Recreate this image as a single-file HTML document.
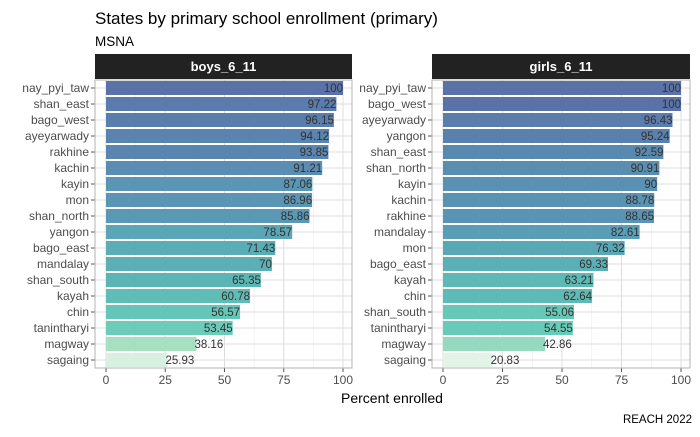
<!DOCTYPE html>
<html><head><meta charset="utf-8"><style>
body{margin:0;background:#fff;font-family:"Liberation Sans",sans-serif;}
svg text{font-family:"Liberation Sans",sans-serif;}
</style></head><body>
<svg id="c" width="700" height="432" xmlns="http://www.w3.org/2000/svg">
<text x="95" y="24" font-size="17" fill="#000">States by primary school enrollment (primary)</text>
<text x="95" y="46" font-size="13.5" fill="#000">MSNA</text>
<text x="392" y="403" font-size="14" text-anchor="middle" fill="#000">Percent enrolled</text>
<text x="692" y="423" font-size="11.5" text-anchor="end" fill="#000">REACH 2022</text>
</svg>
<script>
const boysStates=["nay_pyi_taw","shan_east","bago_west","ayeyarwady","rakhine","kachin","kayin","mon","shan_north","yangon","bago_east","mandalay","shan_south","kayah","chin","tanintharyi","magway","sagaing"];
const boysValues=[100,97.22,96.15,94.12,93.85,91.21,87.06,86.96,85.86,78.57,71.43,70,65.35,60.78,56.57,53.45,38.16,25.93];
const girlsStates=["nay_pyi_taw","bago_west","ayeyarwady","yangon","shan_east","shan_north","kayin","kachin","rakhine","mandalay","mon","bago_east","kayah","chin","shan_south","tanintharyi","magway","sagaing"];
const girlsValues=[100,100,96.43,95.24,92.59,90.91,90,88.78,88.65,82.61,76.32,69.33,63.21,62.64,55.06,54.55,42.86,20.83];
const ticks=[0,25,50,75,100];
const NS="http://www.w3.org/2000/svg";
const svg=document.getElementById('c');
function mk(t,a,p){const e=document.createElementNS(NS,t);for(const k in a)e.setAttribute(k,a[k]);(p||svg).appendChild(e);return e;}
const stops=[[20,[228,244,232]],[26,[216,240,224]],[38,[168,224,192]],[55,[102,201,184]],[65,[92,181,181]],[80,[90,163,182]],[90,[90,145,178]],[100,[90,114,168]]];
function color(v){for(let i=0;i<stops.length-1;i++){const[a,ca]=stops[i],[b,cb]=stops[i+1];if(v<=b){const t=Math.max(0,(v-a)/(b-a));return 'rgb('+ca.map((c,j)=>Math.round(c+(cb[j]-c)*t)).join(',')+')';}}return 'rgb(90,114,168)';}
function panel(name,states,values,left,right){
  const top=80,bottom=368,x0=left+11,x1=right-9;
  const xs=v=>x0+(x1-x0)*v/100;
  const step=(bottom-top)/states.length;
  const ys=i=>top+step*(i+0.5);
  const g=mk('g',{});
  
  
  const strip=mk('rect',{x:left,y:54,width:right-left,height:25,fill:'#222'},g);
  
  
  const st=mk('text',{x:(left+right)/2,y:71,'font-size':13,'font-weight':'bold',fill:'#fff','text-anchor':'middle'},g);st.textContent=name;
  
  
  for(let k=0;k<ticks.length-1;k++){const m=(ticks[k]+ticks[k+1])/2;mk('line',{x1:xs(m),x2:xs(m),y1:top,y2:bottom,stroke:'#ebebeb','stroke-width':0.6},g);}
  ticks.forEach(t=>{mk('line',{x1:xs(t),x2:xs(t),y1:top,y2:bottom,stroke:'#dcdcdc','stroke-width':1},g);
    mk('line',{x1:xs(t),x2:xs(t),y1:bottom,y2:bottom+4,stroke:'#555'},g);
    const tl=mk('text',{x:xs(t),y:bottom+16,'font-size':12,fill:'#4d4d4d','text-anchor':'middle'},g);tl.textContent=t;
    
    });
  states.forEach((s,i)=>{mk('line',{x1:left,x2:right,y1:ys(i),y2:ys(i),stroke:'#dcdcdc'},g);});
  states.forEach((s,i)=>{
    const v=values[i];
    const r=mk('rect',{x:xs(0),y:ys(i)-7,width:xs(v)-xs(0),height:14,fill:color(v)},g);
    
    
    const vl=mk('text',{x:v<45?xs(v)-2:xs(v),y:ys(i)+4,'font-size':11.5,fill:'#333','text-anchor':v<45?'start':'end'},g);
    vl.textContent=v;
    
    
    mk('line',{x1:left-4,x2:left,y1:ys(i),y2:ys(i),stroke:'#555'},g);
    const yl=mk('text',{x:left-6,y:ys(i)+4,'font-size':12,fill:'#4d4d4d','text-anchor':'end'},g);yl.textContent=s;
    
    
  });
  mk('rect',{x:left,y:top,width:right-left,height:bottom-top,fill:'none',stroke:'#b3b3b3'},g);
}
panel('boys_6_11',boysStates,boysValues,95,352);
panel('girls_6_11',girlsStates,girlsValues,432,690);
</script>
</body></html>
